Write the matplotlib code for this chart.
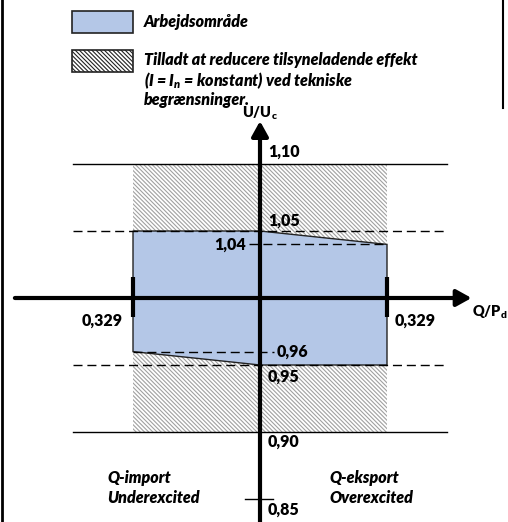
import matplotlib
matplotlib.use("Agg")
import matplotlib.pyplot as plt
from matplotlib.patches import Polygon, Rectangle

# ---------------- data ----------------
q_limit = 0.329                      # Q/Pd limit (both sides)
u_upper_band = [1.10, 0.90]          # solid limits
u_dashed = [1.05, 0.95]              # dashed limits
u_work_top = [1.05, 1.05, 1.04]      # at Q = -0.329, 0, +0.329
u_work_bot = [0.96, 0.95, 0.95]      # at Q = -0.329, 0, +0.329
q_points = [-q_limit, 0.0, q_limit]
u_ticks = [1.10, 1.05, 1.04, 0.96, 0.95, 0.90, 0.85]
u_tick_labels = ["1,10", "1,05", "1,04", "0,96", "0,95", "0,90", "0,85"]
q_tick_labels = ["0,329", "0,329"]
legend_labels = ["Arbejdsområde",
                 "Tilladt at reducere tilsyneladende effekt",
                 "(I = I$_{n}$ = konstant) ved tekniske",
                 "begrænsninger."]
region_labels = [("Q-import", "Underexcited"), ("Q-eksport", "Overexcited")]

# ---------------- style ----------------
FONT = "Lato"
WEIGHT = "heavy"
plt.rcParams["font.family"] = [FONT, "DejaVu Sans"]
plt.rcParams["mathtext.fontset"] = "custom"
plt.rcParams["mathtext.rm"] = f"{FONT}:heavy"
plt.rcParams["mathtext.it"] = f"{FONT}:heavy:italic"
plt.rcParams["mathtext.bf"] = f"{FONT}:heavy"
plt.rcParams["hatch.linewidth"] = 0.8
plt.rcParams["hatch.color"] = "#a0a0a0"

BLUE = "#B4C7E7"
W, H = 508, 522
fig = plt.figure(figsize=(W / 100, H / 100), dpi=100)
ax = fig.add_axes([0, 0, 1, 1])

# pixel mapping: Q=0 at x=260, 386 px per unit; U=1 at y=298, 1340 px per unit
x0, sx = 260.0, 386.0
y0, sy = 298.0, 1340.0
ax.set_xlim(-x0 / sx, (W - x0) / sx)
ax.set_ylim(1 - (H - y0) / sy, 1 + y0 / sy)
ax.axis("off")

def fpx(x, y):
    return (x / W, 1 - y / H)

FS = 11.5
HATCH = "\\" * 8

# hatched region
ax.add_patch(Rectangle((-q_limit, u_upper_band[1]), 2 * q_limit,
                       u_upper_band[0] - u_upper_band[1],
                       facecolor="white", edgecolor="#a0a0a0", hatch=HATCH,
                       linewidth=0, zorder=1))

# working area polygon
poly = list(zip(q_points, u_work_top)) + list(zip(q_points[::-1], u_work_bot[::-1]))
ax.add_patch(Polygon(poly, closed=True, facecolor=BLUE, edgecolor="#222222",
                     linewidth=1.0, zorder=2))

# solid limit lines
for u in u_upper_band:
    ax.plot([-0.484, 0.484], [u, u], color="black", lw=1.0, zorder=3)
# dashed limit lines
dash = (0, (6.5, 3.5))
for u in u_dashed:
    ax.plot([-0.484, 0.484], [u, u], color="black", lw=1.0, ls=dash, zorder=3)
ax.plot([-0.028, q_limit], [u_work_top[2]] * 2, color="black", lw=1.0, ls=dash, zorder=3)
ax.plot([-q_limit, 0.036], [u_work_bot[0]] * 2, color="black", lw=1.0, ls=dash, zorder=3)

# axes arrows
arrow = dict(arrowstyle="-|>,head_length=0.45,head_width=0.25", lw=3,
             color="black", shrinkA=0, shrinkB=0, mutation_scale=20)
ax.annotate("", xy=(0.548, 1.0), xytext=(-0.635, 1.0), arrowprops=arrow, zorder=5)
ax.annotate("", xy=(0.0, 1.132), xytext=(0.0, 0.80), arrowprops=arrow, zorder=5)

# ticks on Q axis
for q in (-q_limit, q_limit):
    ax.plot([q, q], [0.9855, 1.0155], color="black", lw=3, zorder=5,
            solid_capstyle="butt")
# tick at 0.85
ax.plot([-0.039, 0.034], [0.85, 0.85], color="black", lw=1.0, zorder=5)

# U labels
tx = dict(fontsize=FS, fontweight=WEIGHT, color="black", zorder=6)
lab_pos = {
    "1,10": (0.021, 1.109, "left"),
    "1,05": (0.021, 1.058, "left"),
    "1,04": (-0.036, 1.040, "right"),
    "0,96": (0.044, 0.960, "left"),
    "0,95": (0.021, 0.941, "left"),
    "0,90": (0.021, 0.893, "left"),
    "0,85": (0.021, 0.842, "left"),
}
for u, lab in zip(u_ticks, u_tick_labels):
    x, y, ha = lab_pos[lab]
    ax.text(x, y, lab, ha=ha, va="center", **tx)

ax.text(-0.355, 0.983, q_tick_labels[0], ha="right", va="center", **tx)
ax.text(0.350, 0.983, q_tick_labels[1], ha="left", va="center", **tx)

tx_small = dict(tx, fontsize=10.5)
ax.text(0.549, 0.989, r"Q/P$_\mathrm{d}$", ha="left", va="center", **tx_small)
ax.text(0.0, 1.138, r"U/U$_\mathrm{c}$", ha="center", va="center", **tx_small)

itx = dict(fontsize=FS, fontweight=WEIGHT, fontstyle="italic", color="black")
for (l1, l2), x in zip(region_labels, (-0.396, 0.179)):
    ax.text(x, 0.866, l1, ha="left", va="center", **itx)
    ax.text(x, 0.851, l2, ha="left", va="center", **itx)

# legend (figure pixel coords)
fig.patches.append(Rectangle(fpx(72, 33), 61 / W, 22 / H, transform=fig.transFigure,
                             facecolor=BLUE, edgecolor="#222222", lw=1.2))
fig.patches.append(Rectangle(fpx(72, 72), 61 / W, 22 / H, transform=fig.transFigure,
                             facecolor="white", edgecolor="#222222", lw=1.2,
                             hatch=HATCH))
for lab, y in zip(legend_labels, (22, 60, 81, 100)):
    fig.text(*fpx(144, y), lab, ha="left", va="center", **itx)

# frame lines
fig.add_artist(plt.Line2D([1.5 / W, 1.5 / W], [0, 1], color="black", lw=2.0,
                          transform=fig.transFigure))
fig.add_artist(plt.Line2D([502.5 / W, 502.5 / W], [1, 1 - 108 / H], color="black", lw=1.5,
                          transform=fig.transFigure))

fig.savefig("out.png", dpi=100)
